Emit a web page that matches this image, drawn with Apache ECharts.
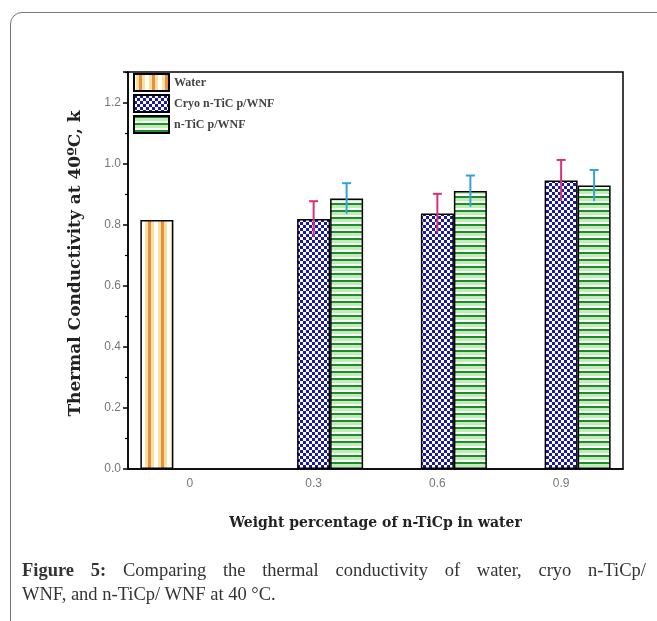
<!DOCTYPE html>
<html><head><meta charset="utf-8">
<script src="https://cdn.jsdelivr.net/npm/echarts@6/dist/echarts.min.js"></script>
<style>
html,body{margin:0;padding:0;width:657px;height:621px;overflow:hidden;background:#fff;}
#frame{position:absolute;left:10px;top:12px;width:700px;height:700px;border:1px solid #777;border-top-left-radius:12px;box-sizing:border-box;}
#chart{position:absolute;left:0;top:0;width:657px;height:621px;}
#cap{position:absolute;left:22px;top:558px;width:624px;font-family:'Liberation Serif',serif;font-size:18.5px;line-height:24px;color:#333;}
.l1{text-align:justify;text-align-last:justify;}
</style></head>
<body>
<div id="frame"></div>
<div id="chart"></div>
<div id="cap"><div class="l1"><b>Figure 5:</b> Comparing the thermal conductivity of water, cryo n-TiCp/</div><div>WNF, and n-TiCp/ WNF at 40 °C.</div></div>
<script>
const categories = ['0', '0.3', '0.6', '0.9'];
const seriesNames = ['Water', 'Cryo n-TiC p/WNF', 'n-TiC p/WNF'];
const waterValues = [0.815, null, null, null];
const cryoValues = [null, 0.819, 0.837, 0.945];
const ticValues = [null, 0.886, 0.910, 0.928];
const cryoErrors = [null, 0.058, 0.064, 0.067];
const ticErrors = [null, 0.050, 0.051, 0.051];

const BAR_W = 33;

function makePattern(w, h, draw) {
  const c = document.createElement('canvas');
  c.width = w; c.height = h;
  const ctx = c.getContext('2d');
  draw(ctx, w, h);
  return c;
}
const waterPat = makePattern(13, 4, (ctx, w, h) => {
  ctx.fillStyle = '#ffffff'; ctx.fillRect(0, 0, w, h);
  ctx.fillStyle = '#fbe0a0'; ctx.fillRect(2, 0, 9, h);
  ctx.fillStyle = '#e88e3c'; ctx.fillRect(5, 0, 3, h);
});
const cryoPat = makePattern(6, 6, (ctx, w, h) => {
  ctx.fillStyle = '#ffffff'; ctx.fillRect(0, 0, w, h);
  ctx.fillStyle = '#1a1aa0';
  ctx.fillRect(0, 0, 3, 3); ctx.fillRect(3, 3, 3, 3);
});
const ticPat = makePattern(4, 7, (ctx, w, h) => {
  ctx.fillStyle = '#ffffff'; ctx.fillRect(0, 0, w, h);
  ctx.fillStyle = '#1f8c2a'; ctx.fillRect(0, 0, w, 2);
  ctx.fillStyle = '#bdeeb5'; ctx.fillRect(0, 2, w, 3);
});

function errSeries(name, values, errors, offset, color) {
  const data = [];
  values.forEach((v, i) => { if (v != null) data.push([i, v, errors[i]]); });
  return {
    type: 'custom', name: name, z: 5, silent: true,
    encode: { x: 0, y: 1 },
    data: data,
    renderItem: (params, api) => {
      const cx = api.coord([api.value(0), 0])[0] + offset;
      const top = api.coord([api.value(0), api.value(1) + api.value(2)])[1];
      const bot = api.coord([api.value(0), api.value(1) - api.value(2)])[1];
      const st = { stroke: color, lineWidth: 2 };
      return { type: 'group', children: [
        { type: 'line', shape: { x1: cx, y1: top, x2: cx, y2: bot }, style: st },
        { type: 'line', shape: { x1: cx - 4.5, y1: top, x2: cx + 4.5, y2: top }, style: st }
      ]};
    }
  };
}

const chart = echarts.init(document.getElementById('chart'));
const tickStyle = { color: '#000', width: 1.5 };
chart.setOption({
  animation: false,
  grid: { left: 128, right: 34, top: 72, bottom: 152, show: true, borderColor: '#000', borderWidth: 1.5 },
  legend: {
    data: seriesNames, orient: 'vertical', left: 133, top: 73, padding: 0,
    itemWidth: 35, itemHeight: 17, itemGap: 2, icon: 'rect',
    textStyle: { fontFamily: 'Liberation Serif', fontWeight: 'bold', fontSize: 12, color: '#444' }
  },
  xAxis: [{
    type: 'category', data: categories, position: 'bottom',
    axisLine: { lineStyle: tickStyle },
    axisTick: { alignWithLabel: true, length: 7, lineStyle: tickStyle },
    axisLabel: { color: '#777', fontSize: 12, fontFamily: 'Liberation Sans', margin: 9 },
    name: 'Weight percentage of n-TiCp in water', nameLocation: 'middle', nameGap: 47,
    nameTextStyle: { fontFamily: 'DejaVu Serif', fontWeight: 'bold', fontSize: 14, color: '#222' }
  }, {
    type: 'category', data: categories, position: 'bottom',
    axisLine: { show: false },
    axisTick: { length: 3, lineStyle: tickStyle },
    axisLabel: { show: false }
  }],
  yAxis: {
    type: 'value', min: 0, max: 1.3, interval: 0.2,
    axisLine: { show: true, lineStyle: tickStyle },
    axisTick: { show: true, length: 5, lineStyle: tickStyle },
    minorTick: { show: true, splitNumber: 2, length: 3, lineStyle: { color: '#000', width: 1.2 } },
    splitLine: { show: false },
    axisLabel: { color: '#777', fontSize: 12, fontFamily: 'Liberation Sans', margin: 7, showMaxLabel: false,
      formatter: v => v.toFixed(1) },
    name: 'Thermal Conductivity at 40ºC, k', nameLocation: 'middle', nameGap: 44,
    nameTextStyle: { fontFamily: 'DejaVu Serif', fontWeight: 'bold', fontSize: 17, color: '#222', padding: [0, 0, 0, 14] }
  },
  series: [
    { type: 'bar', name: seriesNames[0], data: waterValues, barWidth: BAR_W, barGap: '0%',
      itemStyle: { color: { image: waterPat, repeat: 'repeat' }, borderColor: '#000', borderWidth: 1.5 } },
    { type: 'bar', name: seriesNames[1], data: cryoValues, barWidth: BAR_W, barGap: '0%',
      itemStyle: { color: { image: cryoPat, repeat: 'repeat' }, borderColor: '#000', borderWidth: 1.5 } },
    { type: 'bar', name: seriesNames[2], data: ticValues, barWidth: BAR_W, barGap: '0%',
      itemStyle: { color: { image: ticPat, repeat: 'repeat' }, borderColor: '#000', borderWidth: 1.5 } },
    errSeries('cryoErr', cryoValues, cryoErrors, 0, '#d8307a'),
    errSeries('ticErr', ticValues, ticErrors, BAR_W, '#34a2d8')
  ]
});
</script>
</body></html>
